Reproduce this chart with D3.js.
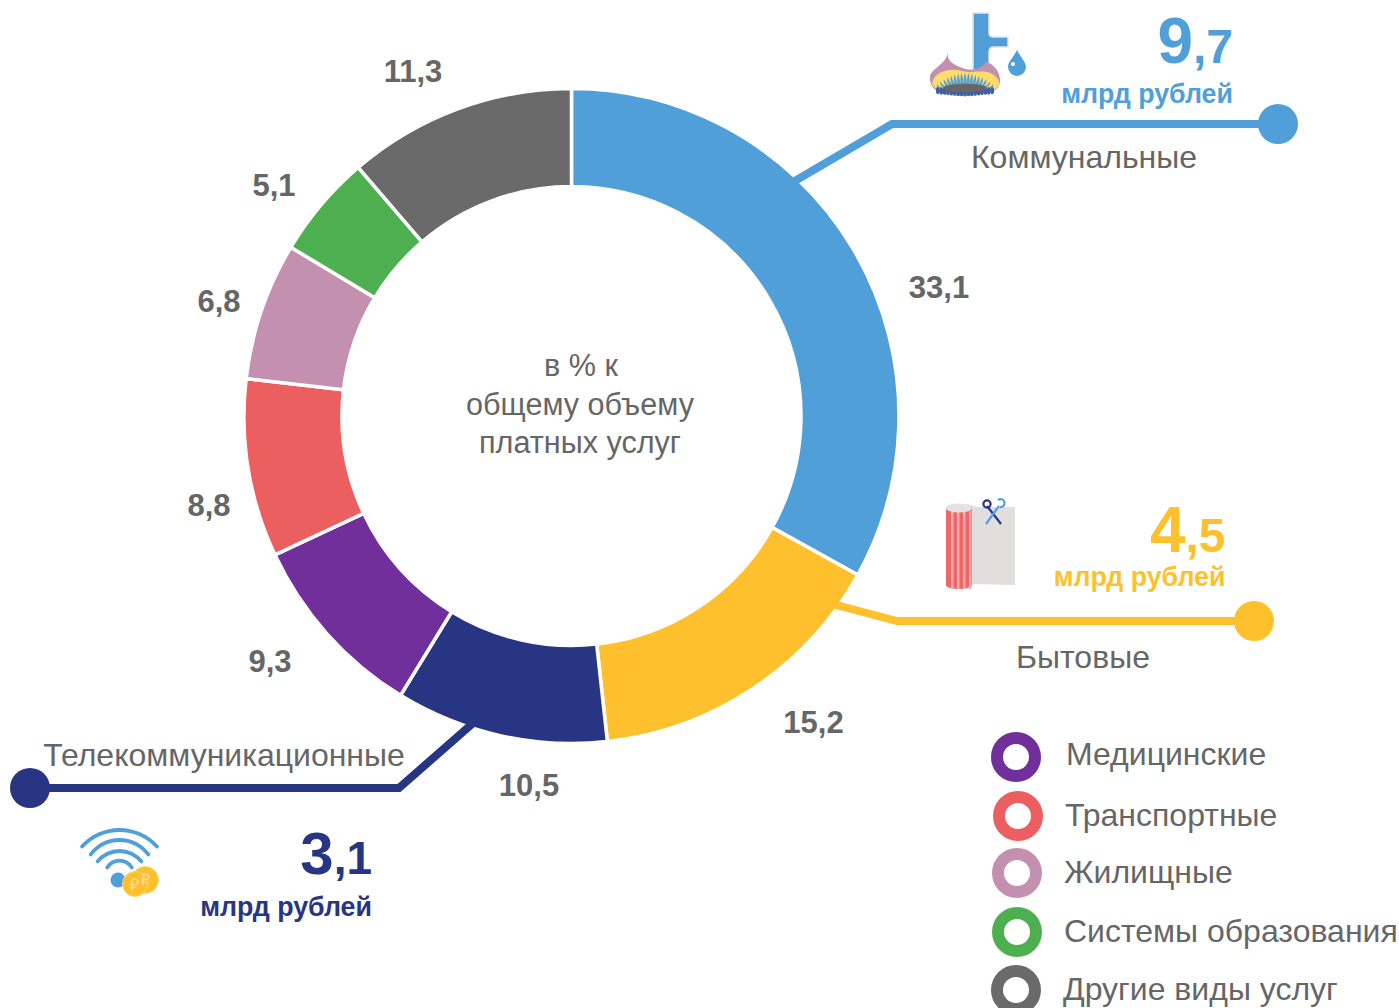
<!DOCTYPE html>
<html><head><meta charset="utf-8">
<script src="https://cdnjs.cloudflare.com/ajax/libs/d3/7.8.5/d3.min.js"></script>
<style>html,body{margin:0;background:#fff}svg{display:block}text{font-family:"Liberation Sans",Arial,sans-serif}</style>
</head><body><svg id="c" width="1399" height="1008"></svg>
<script>
const categories=["Коммунальные","Бытовые","Телекоммуникационные","Медицинские","Транспортные","Жилищные","Системы образования","Другие виды услуг"];
const shares=[33.1,15.2,10.5,9.3,8.8,6.8,5.1,11.3];
const colors=["#519fd9","#fec12d","#273583","#712f9c","#ec5f60","#c490b0","#4eaf50","#6a6a6a"];
const shareLabels=["33,1","15,2","10,5","9,3","8,8","6,8","5,1","11,3"];
const labelPos=[[939,287],[813.5,722],[529,785],[270,661],[209,505],[219,301],[274,185],[413,71]];
const centerLines=["в % к","общему объему","платных услуг"];
const legendNames=categories.slice(3);
const legendColors=colors.slice(3);
const legendY=[757,816,873,932,990];
const legendYText=[765,826,883,942,1000];
const legendTextX=[1066,1065,1064,1064,1063];
const legendRingX=[1016,1018,1017,1017,1016];
const callouts=[
 {name:"Коммунальные",amountWhole:"9",amountFrac:",7",color:colors[0],path:[[788,185],[892,124],[1278,124]],dot:[1278,124],nameAt:[1084,168],numEnd:1233,numY:63,unitY:103,wholeSize:64,fracSize:48},
 {name:"Бытовые",amountWhole:"4",amountFrac:",5",color:colors[1],path:[[825,602],[897,621],[1254,621]],dot:[1254,621],nameAt:[1083,668],numEnd:1225.5,numY:552,unitY:586,wholeSize:64,fracSize:48},
 {name:"Телекоммуникационные",amountWhole:"3",amountFrac:",1",color:colors[2],path:[[480,717],[399,788],[30,788]],dot:[30,788],nameAt:[224,766],numEnd:372,numY:874,unitY:915.5,wholeSize:60,fracSize:46}
];
const svg=d3.select("#c");
const cx=571.5,cy=416;
const pie=d3.pie().sort(null).value(d=>d)(shares);
const arc=d3.arc().innerRadius(229.5).outerRadius(327.5);

svg.append("g").attr("transform",`translate(${cx},${cy})`).selectAll("path").data(pie).join("path")
 .attr("d",arc).attr("fill",(d,i)=>colors[i]).attr("stroke","#fff").attr("stroke-width",3.5);

const line=d3.line();
callouts.forEach(c=>{
 svg.append("path").attr("d",line(c.path)).attr("fill","none").attr("stroke",c.color).attr("stroke-width",8);
 svg.append("circle").attr("cx",c.dot[0]).attr("cy",c.dot[1]).attr("r",20).attr("fill",c.color);
});

svg.append("g").selectAll("text").data(shareLabels).join("text")
 .attr("x",(d,i)=>labelPos[i][0]).attr("y",(d,i)=>labelPos[i][1]+10.5).attr("text-anchor","middle")
 .attr("font-size",31).attr("font-weight",700).attr("fill","#666").text(d=>d);

svg.append("g").selectAll("text").data(centerLines).join("text")
 .attr("x",(d,i)=>i==0?581:580).attr("y",(d,i)=>376+i*38.5).attr("text-anchor","middle")
 .attr("font-size",30.6).attr("fill","#666").text(d=>d);

callouts.forEach(c=>{
 svg.append("text").attr("x",c.nameAt[0]).attr("y",c.nameAt[1]).attr("text-anchor","middle").attr("font-size",32).attr("fill","#666").text(c.name);
 const t=svg.append("text").attr("x",c.numEnd).attr("y",c.numY).attr("text-anchor","end").attr("font-weight",700).attr("fill",c.color);
 t.append("tspan").attr("font-size",c.wholeSize).text(c.amountWhole);
 t.append("tspan").attr("font-size",c.fracSize).text(c.amountFrac);
 svg.append("text").attr("x",c.numEnd).attr("y",c.unitY).attr("text-anchor","end").attr("font-size",26.8).attr("font-weight",700).attr("fill",c.color).text("млрд рублей");
});

const lg=svg.append("g");
lg.selectAll("circle").data(legendNames).join("circle").attr("cx",(d,i)=>legendRingX[i]).attr("cy",(d,i)=>legendY[i])
 .attr("r",19).attr("fill","#fff").attr("stroke",(d,i)=>legendColors[i]).attr("stroke-width",12);
lg.selectAll("text").data(legendNames).join("text").attr("x",(d,i)=>legendTextX[i]).attr("y",(d,i)=>legendYText[i])
 .attr("font-size",32).attr("fill","#666").text(d=>d);

// pictograms
const tap=svg.append("g");
tap.append("path").attr("d","M973 13H989V33C989 36 991 37 994 37H1008V47H994C991 47 989 49 989 52V70H973Z").attr("fill",colors[0]).attr("stroke","#e4e4e4").attr("stroke-width",1.5);
tap.append("path").attr("d","M1017 50C1021 58 1026 62 1026 67A9 9 0 0 1 1008 67C1008 62 1013 58 1017 50Z").attr("fill",colors[0]);
tap.append("circle").attr("cx",1013).attr("cy",64).attr("r",2).attr("fill","#fff");
tap.append("path").attr("d","M948 53C947 60 952 64 960 67C968 71 980 71 986 62C994 64 1000 72 1000 80C1000 90 992 95 965 96C940 96 930 90 930 78C930 68 945 66 948 53Z").attr("fill","#c490b0");
tap.append("path").attr("d","M932 84C933 76 940 71 950 70C958 69 962 72 968 72C978 72 986 70 992 74C997 77 999 80 999 84C996 92 982 96 965 96C948 96 936 92 932 84Z").attr("fill","#fedb6a");
d3.range(-8,9).forEach(k=>{
 const x0=965+k*2.6,x1=965+k*3.5,y1=84-(64-k*k)*0.17;
 tap.append("path").attr("d",`M${x0-1.6} 88Q${x1-1.6} ${y1+4} ${x1} ${y1}Q${x1+1.6} ${y1+4} ${x0+1.6} 88Z`).attr("fill",colors[0]);
});
d3.range(-8,9).forEach(k=>{
 tap.append("ellipse").attr("cx",965+k*3.4).attr("cy",93-Math.abs(k)*0.3).attr("rx",1.9).attr("ry",3.6).attr("fill","#3f5ea8");
});
tap.append("ellipse").attr("cx",965).attr("cy",88).attr("rx",22).attr("ry",4.2).attr("fill","#666");

const roll=svg.append("g");
roll.append("path").attr("d","M958 506C966 502 972 506 978 507H1015V585L972 584Z").attr("fill","#e0dfdd");
roll.append("path").attr("d","M946 508A13 4 0 0 1 972 508V585A13 4 0 0 1 946 585Z").attr("fill","#ef6668");
[951,957,963,969].forEach(x=>roll.append("rect").attr("x",x).attr("y",511).attr("width",x==969?2.5:2.5).attr("height",78).attr("fill","#f8a9ab"));
roll.append("ellipse").attr("cx",959).attr("cy",508).attr("rx",13).attr("ry",4.5).attr("fill","#e4e3e1");
roll.append("line").attr("x1",987).attr("y1",506).attr("x2",1001).attr("y2",524).attr("stroke",colors[2]).attr("stroke-width",2.2);
roll.append("line").attr("x1",999).attr("y1",506).attr("x2",986).attr("y2",524).attr("stroke",colors[0]).attr("stroke-width",2.2);
roll.append("circle").attr("cx",987).attr("cy",504).attr("r",3.6).attr("fill","none").attr("stroke",colors[2]).attr("stroke-width",2.2);
roll.append("path").attr("d","M998 500A4 4 0 1 1 1000 507").attr("fill","none").attr("stroke",colors[0]).attr("stroke-width",2.2);

const wifi=svg.append("g");
const waves=[[50.6,880.6,0.87],[36,876,0.98],[28,879,0.96],[14.4,875,1.15]];
waves.forEach(w=>{
 wifi.append("path").attr("d",d3.arc().innerRadius(w[0]-1.9).outerRadius(w[0]+1.9).startAngle(-w[2]).endAngle(w[2]).cornerRadius(1.9)()).attr("transform",`translate(119.5,${w[1]})`).attr("fill",colors[0]);
});
wifi.append("circle").attr("cx",118).attr("cy",880).attr("r",7.5).attr("fill",colors[0]);
wifi.append("circle").attr("cx",145).attr("cy",880).attr("r",13.5).attr("fill","#fec12d").attr("stroke","#fdd776").attr("stroke-width",1);
wifi.append("circle").attr("cx",135).attr("cy",884).attr("r",12.5).attr("fill","#fec12d").attr("stroke","#fdd776").attr("stroke-width",1);
wifi.append("text").attr("x",134).attr("y",890).attr("text-anchor","middle").attr("font-size",16).attr("fill","#fde08f").text("₽");
wifi.append("text").attr("x",145).attr("y",885).attr("text-anchor","middle").attr("font-size",16).attr("fill","#fde08f").text("₽");
</script></body></html>
